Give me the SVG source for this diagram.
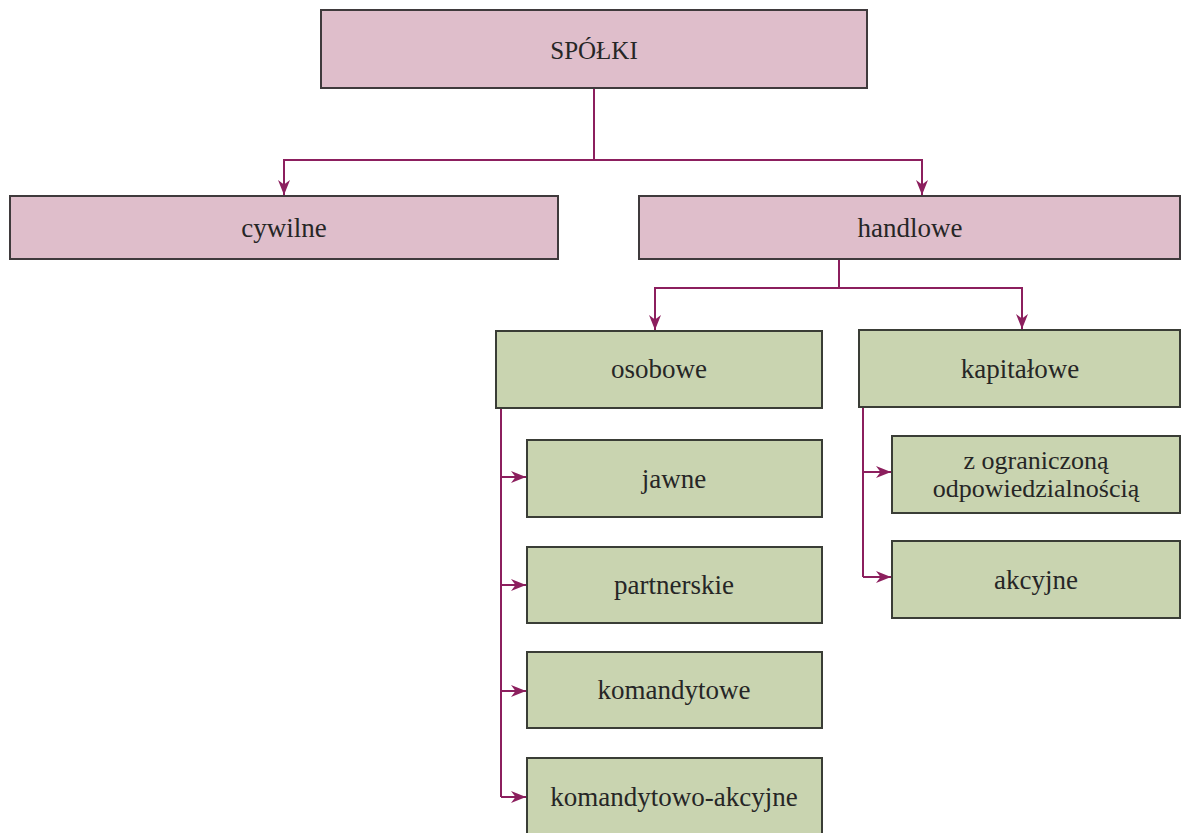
<svg xmlns="http://www.w3.org/2000/svg" width="1182" height="833" viewBox="0 0 1182 833">
<style>
.pink{fill:#dfbecb;stroke:#3f3a3c;stroke-width:2}
.green{fill:#c9d4b0;stroke:#3a3d36;stroke-width:2}
.t{font-family:"Liberation Serif","Times New Roman",serif;font-size:27px;fill:#262626;text-anchor:middle}
.t2{font-size:26px}
.c{fill:none;stroke:#8c1f5e;stroke-width:2}
</style>
<defs>
<marker id="ah" markerUnits="userSpaceOnUse" markerWidth="16" markerHeight="14" refX="15" refY="7" orient="auto">
<path d="M0,1 L15,7 L0,13 L4.5,7 z" fill="#8c1f5e"/>
</marker>
</defs>
<rect width="1182" height="833" fill="#ffffff"/>
<g id="connectors">
<path class="c" d="M594,88 V160"/>
<path class="c" d="M594,160 H284 V195" marker-end="url(#ah)"/>
<path class="c" d="M594,160 H922 V195" marker-end="url(#ah)"/>
<path class="c" d="M839,259 V288"/>
<path class="c" d="M839,288 H655 V330" marker-end="url(#ah)"/>
<path class="c" d="M839,288 H1022 V329" marker-end="url(#ah)"/>
<path class="c" d="M501,408 V797"/>
<path class="c" d="M501,477 H526" marker-end="url(#ah)"/>
<path class="c" d="M501,585 H526" marker-end="url(#ah)"/>
<path class="c" d="M501,691 H526" marker-end="url(#ah)"/>
<path class="c" d="M501,797 H526" marker-end="url(#ah)"/>
<path class="c" d="M863,407 V577"/>
<path class="c" d="M863,472 H891" marker-end="url(#ah)"/>
<path class="c" d="M863,577 H891" marker-end="url(#ah)"/>
</g>
<g id="spolki"><rect class="pink" x="321" y="10" width="546" height="78"/><text class="t" x="594" y="59" style="font-size:25px">SPÓŁKI</text></g>
<g id="cywilne"><rect class="pink" x="10" y="196" width="548" height="63"/><text class="t" x="284" y="237">cywilne</text></g>
<g id="handlowe"><rect class="pink" x="639" y="196" width="541" height="63"/><text class="t" x="910" y="237">handlowe</text></g>
<g id="osobowe"><rect class="green" x="496" y="331" width="326" height="77"/><text class="t" x="659" y="378">osobowe</text></g>
<g id="kapitalowe"><rect class="green" x="859" y="330" width="321" height="77"/><text class="t" x="1020" y="378">kapitałowe</text></g>
<g id="jawne"><rect class="green" x="527" y="440" width="295" height="77"/><text class="t" x="674" y="488">jawne</text></g>
<g id="partnerskie"><rect class="green" x="527" y="547" width="295" height="76"/><text class="t" x="674" y="594">partnerskie</text></g>
<g id="komandytowe"><rect class="green" x="527" y="652" width="295" height="76"/><text class="t" x="674" y="699">komandytowe</text></g>
<g id="komandytowo-akcyjne"><rect class="green" x="527" y="758" width="295" height="80"/><text class="t" x="674" y="806">komandytowo-akcyjne</text></g>
<g id="z-ograniczona"><rect class="green" x="892" y="436" width="288" height="77"/><text class="t t2" x="1036" y="469">z ograniczoną</text><text class="t t2" x="1036" y="497">odpowiedzialnością</text></g>
<g id="akcyjne"><rect class="green" x="892" y="541" width="288" height="77"/><text class="t" x="1036" y="589">akcyjne</text></g>
</svg>
